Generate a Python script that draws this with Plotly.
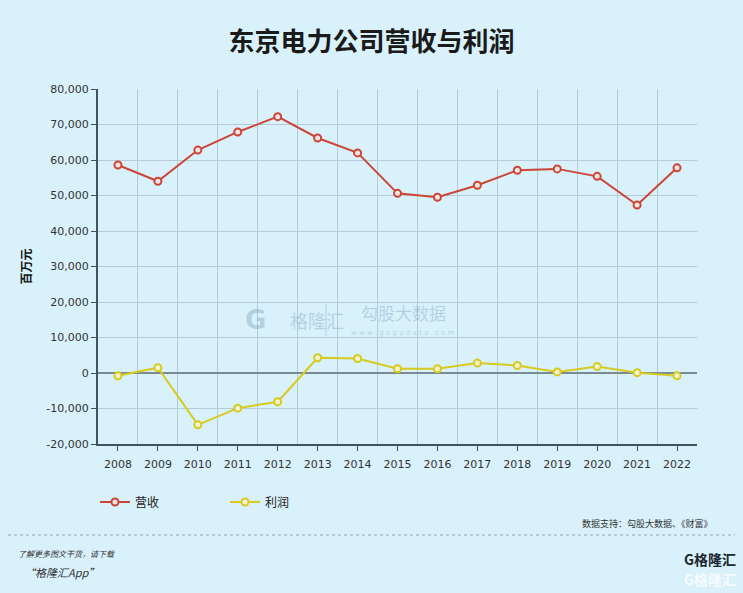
import plotly.graph_objects as go

# data (unit: 百万元)
years = [2008, 2009, 2010, 2011, 2012, 2013, 2014, 2015,
         2016, 2017, 2018, 2019, 2020, 2021, 2022]
revenue = [58600, 54000, 62800, 67900, 72200, 66200, 62000, 50600,
           49500, 52900, 57100, 57500, 55400, 47300, 57800]
profit = [-800, 1500, -14600, -9900, -8100, 4300, 4100, 1200,
          1200, 2800, 2100, 300, 1800, 100, -800]
ytick_vals = list(range(-20000, 80001, 10000))
ytick_text = [f"{v:,}" for v in ytick_vals]

BG = "#d9f1fb"
CJK = "Noto Sans CJK SC"
TICK_FONT = dict(family="DejaVu Sans", size=11, color="#333333")

# plot area in pixels: x 98..697, y 89..444
def px(x):
    return (x - 98) / 599

def py(y):
    return (444 - y) / 355

fig = go.Figure()

fig.add_trace(go.Scatter(
    x=years, y=revenue, mode="lines+markers", name="营收",
    line=dict(color="#cc4536", width=2),
    marker=dict(symbol="circle", size=7, color="#f3e6e2",
                line=dict(color="#cc4536", width=2)),
))
fig.add_trace(go.Scatter(
    x=years, y=profit, mode="lines+markers", name="利润",
    line=dict(color="#d6cb1e", width=2),
    marker=dict(symbol="circle", size=7, color="#f4f2cf",
                line=dict(color="#d6cb1e", width=2)),
))

fig.update_layout(
    width=743, height=593,
    paper_bgcolor=BG, plot_bgcolor=BG,
    margin=dict(l=98, r=46, t=89, b=149),
    title=dict(text="<b>东京电力公司营收与利润</b>", x=0.5, xanchor="center",
               y=0.93, yanchor="middle",
               font=dict(family=CJK, size=26, color="#1a1a1a")),
    font=dict(family=CJK),
    showlegend=True,
    legend=dict(orientation="h", x=px(95), xanchor="left",
                y=py(502), yanchor="middle", bgcolor="rgba(0,0,0,0)",
                font=dict(family=CJK, size=12, color="#222222"),
                entrywidth=85, entrywidthmode="pixels", itemwidth=30),
    hovermode=False,
)

fig.update_xaxes(
    range=[2007.5, 2022.5], tickmode="array", tickvals=years,
    ticktext=[str(y) for y in years], tickfont=TICK_FONT,
    showgrid=False, ticks="outside", ticklen=5, tickcolor="#44525c",
    ticklabelstandoff=4,
    showline=True, linecolor="#44525c", linewidth=2, zeroline=False,
    minor=dict(tick0=2007.5, dtick=1, showgrid=True,
               gridcolor="#b5cbd6", gridwidth=1, ticks=""),
)
fig.update_yaxes(
    range=[-20000, 80000], tickmode="array", tickvals=ytick_vals,
    ticktext=ytick_text, tickfont=TICK_FONT,
    showgrid=True, gridcolor="#b5cbd6", gridwidth=1,
    ticks="outside", ticklen=5, tickcolor="#44525c",
    showline=True, linecolor="#44525c", linewidth=2,
    zeroline=True, zerolinecolor="#7a8a94", zerolinewidth=1.5,
    title=dict(text="<b>百万元</b>", standoff=12,
               font=dict(family=CJK, size=12, color="#111111")),
)

# watermark in the middle of the plot
wm = "rgba(110,150,180,0.35)"
fig.add_annotation(x=px(243), y=py(320), xref="paper", yref="paper",
                   text="<b>G</b>", showarrow=False,
                   font=dict(family="DejaVu Sans", size=26, color=wm))
fig.add_annotation(x=px(288), y=py(320), xref="paper", yref="paper",
                   text="格隆汇", showarrow=False,
                   font=dict(family=CJK, size=18, color=wm))
fig.add_shape(type="line", xref="paper", yref="paper",
              x0=px(326), x1=px(326), y0=py(336), y1=py(304),
              line=dict(color=wm, width=1))
fig.add_annotation(x=px(403), y=py(326), xref="paper", yref="paper",
                   yanchor="bottom", borderpad=0,
                   text="勾股大数据", showarrow=False,
                   font=dict(family=CJK, size=17, color=wm))
fig.add_annotation(x=px(403), y=py(328), xref="paper", yref="paper",
                   yanchor="top", borderpad=0,
                   text="w w w . g o g u d a t a . c o m", showarrow=False,
                   font=dict(family="DejaVu Sans", size=7, color=wm))

# source and footer
fig.add_annotation(x=px(715), y=py(523), xref="paper", yref="paper",
                   text="数据支持：勾股大数据、《财富》", showarrow=False,
                   xanchor="right", yanchor="middle",
                   font=dict(family=CJK, size=9, color="#333333"))
fig.add_shape(type="line", xref="paper", yref="paper",
              x0=px(8), x1=px(735), y0=py(535), y1=py(535),
              line=dict(color="#9aa8b0", width=1, dash="dot"))
fig.add_annotation(x=px(16), y=py(553),
                   xref="paper", yref="paper", xanchor="left", yanchor="middle",
                   text="<i>了解更多图文干货，请下载</i>", showarrow=False,
                   font=dict(family=CJK, size=8, color="#333333"))
fig.add_annotation(x=px(22), y=py(572),
                   xref="paper", yref="paper", xanchor="left", yanchor="middle",
                   text="<i>“格隆汇App”</i>", showarrow=False,
                   font=dict(family=CJK, size=11, color="#333333"))
fig.add_annotation(x=px(738), y=py(559),
                   xref="paper", yref="paper", xanchor="right", yanchor="middle",
                   text="<b>G格隆汇</b>", showarrow=False,
                   font=dict(family=CJK, size=14, color="#1d2733"))
fig.add_annotation(x=px(738), y=py(579),
                   xref="paper", yref="paper", xanchor="right", yanchor="middle",
                   text="<b>G格隆汇</b>", showarrow=False,
                   font=dict(family=CJK, size=14, color="rgba(255,255,255,0.75)"))

fig.write_html(
    "out.html",
    config={"displayModeBar": False},
    post_script="document.body.style.margin='0';document.body.style.overflow='hidden';",
)
